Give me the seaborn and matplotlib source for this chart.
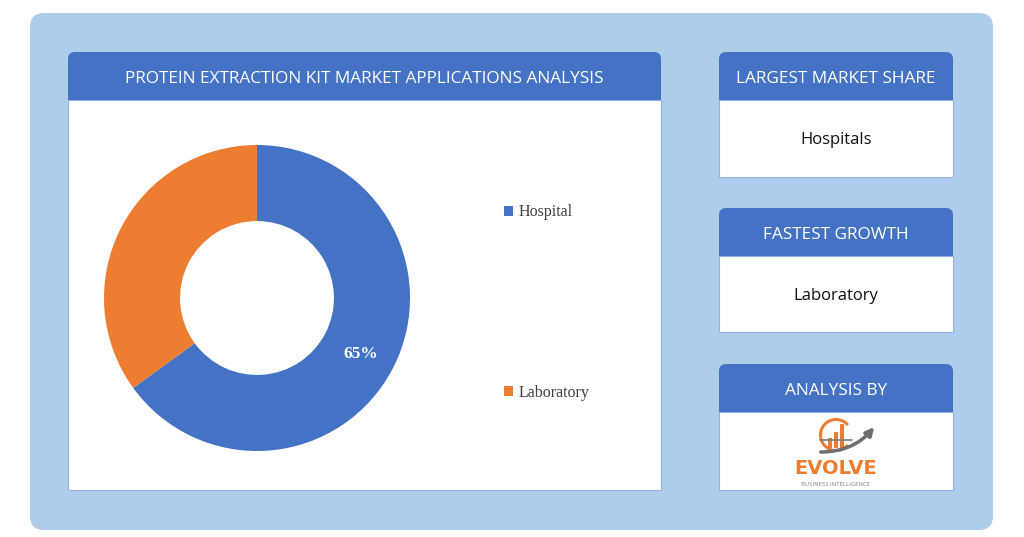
import matplotlib
matplotlib.use("Agg")
import matplotlib.pyplot as plt
import seaborn as sns
from matplotlib.patches import FancyBboxPatch, Rectangle, Wedge
from matplotlib.lines import Line2D

sns.set_style("white")
plt.rcParams['font.family'] = ['Open Sans', 'DejaVu Sans']

# ---- data ----
categories = ["Hospital", "Laboratory"]
shares = [65, 35]
title = "PROTEIN EXTRACTION KIT MARKET APPLICATIONS ANALYSIS"
card_titles = ["LARGEST MARKET SHARE", "FASTEST GROWTH", "ANALYSIS BY"]
card_values = ["Hospitals", "Laboratory"]

palette = sns.color_palette(["#4472C4", "#ED7D31"])
BLUE = "#4472C4"
LIGHT = "#AECDEA"

W, H = 1024, 537
fig = plt.figure(figsize=(W / 100, H / 100), dpi=100)
fig.patch.set_facecolor("white")

bg = fig.add_axes([0, 0, 1, 1])
bg.set_xlim(0, W)
bg.set_ylim(H, 0)
bg.axis("off")

# outer rounded background
bg.add_patch(FancyBboxPatch((30, 13), 963, 517, boxstyle="round,pad=0,rounding_size=14",
                            fc=LIGHT, ec="none"))

def card(x0, y0, x1, yh, y1, text, fs):
    bg.add_patch(Rectangle((x0, yh), x1 - x0, y1 - yh, fc="white", ec="#8DB3E2", lw=0.8))
    bg.add_patch(FancyBboxPatch((x0, y0), x1 - x0, (yh - y0), boxstyle="round,pad=0,rounding_size=7",
                                fc=BLUE, ec="none"))
    bg.add_patch(Rectangle((x0, y0 + 10), x1 - x0, yh - y0 - 10, fc=BLUE, ec="none"))
    bg.text((x0 + x1) / 2, (y0 + yh) / 2 + 3, text, color="white", fontsize=fs,
            ha="center", va="center")

card(68, 52, 661, 100, 490, title, 12.4)
card(719, 52, 953, 100, 177, card_titles[0], 12.4)
card(719, 208, 953, 256, 332, card_titles[1], 12.4)
card(719, 364, 953, 412, 490, card_titles[2], 12.4)

bg.text(836, 140, card_values[0], fontsize=12, ha="center", va="center", color="#111111")
bg.text(836, 296, card_values[1], fontsize=12, ha="center", va="center", color="#111111")

# logo (Evolve)
bg.add_patch(Wedge((836, 435), 17, 40, 320, width=3, fc="#ED7D31", ec="none"))
for bx, bh in [(828, 10), (834, 16), (840, 24)]:
    bg.add_patch(Rectangle((bx, 448 - bh), 4, bh, fc="#ED7D31", ec="none"))
bg.add_line(Line2D([820, 852], [440, 440], color="#7F7F7F", lw=1.2))
bg.annotate("", xy=(876, 425), xytext=(818, 452),
            arrowprops=dict(arrowstyle="-|>", color="#6D6E71", lw=2.5,
                            connectionstyle="arc3,rad=0.25", mutation_scale=12))
bg.text(836, 469, "EVOLVE", fontsize=14, fontweight="bold", color="#ED7D31",
        ha="center", va="center", family=["DejaVu Sans"])
bg.text(836, 484, "BUSINESS INTELLIGENCE", fontsize=4.2, color="#7F7F7F",
        ha="center", va="center")

# donut
cx, cy, r = 257, 298, 153
pie_ax = fig.add_axes([(cx - r) / W, (H - cy - r) / H, 2 * r / W, 2 * r / H])
wedges, _ = pie_ax.pie(shares, colors=palette, startangle=90, counterclock=False,
                       radius=1.0, wedgeprops=dict(width=0.497, edgecolor="none"))
pie_ax.set_xlim(-1, 1)
pie_ax.set_ylim(-1, 1)
pie_ax.set_aspect("equal")
pie_ax.axis("off")
pie_ax.text(0.676, -0.363, f"{shares[0]}%", color="white", fontsize=12.5,
            fontweight="bold", ha="center", va="center",
            family=["Liberation Serif", "DejaVu Serif"])

leg = fig.legend(wedges, categories, loc="upper left",
                 bbox_to_anchor=(490 / W, 1 - 190 / H), frameon=False,
                 prop={"family": ["Liberation Serif", "DejaVu Serif"], "size": 11.5},
                 labelcolor="#404040", handlelength=0.55, handleheight=0.55,
                 handletextpad=0.35, labelspacing=10.3)

fig.savefig("out.png", dpi=100, facecolor="white")
